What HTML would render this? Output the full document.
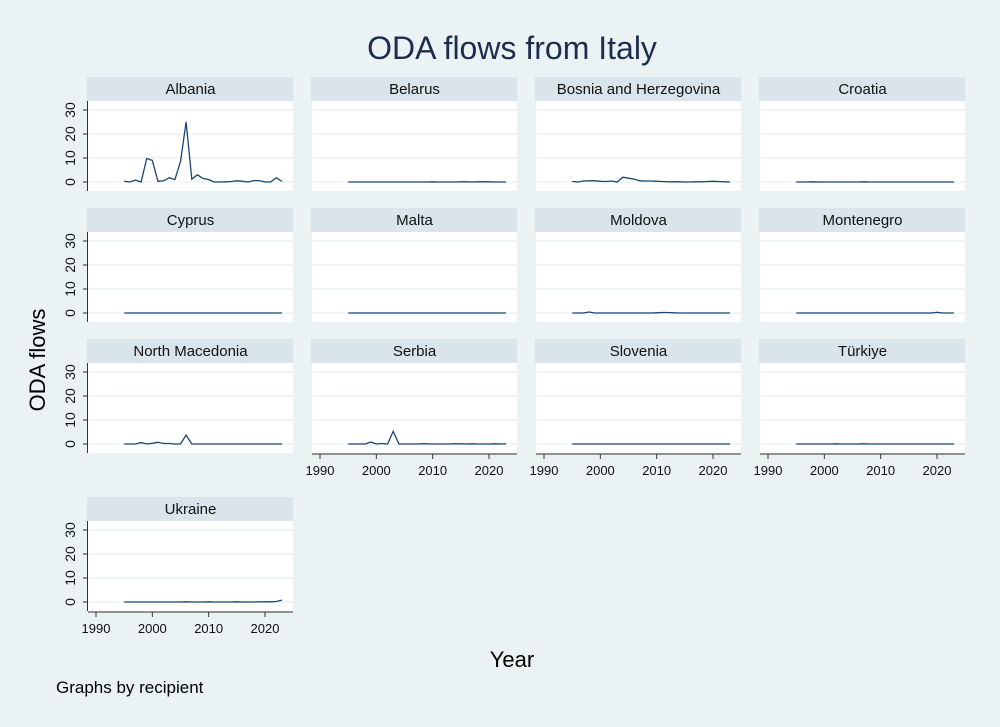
<!DOCTYPE html>
<html><head><meta charset="utf-8"><style>
body{margin:0;background:#eaf2f3;}
svg{display:block;font-family:"Liberation Sans",Arial,sans-serif;}
</style></head><body>
<svg id="chart" width="1000" height="727" viewBox="0 0 1000 727">
<rect width="1000" height="727" fill="#eaf2f3"/>
<text x="512" y="59" text-anchor="middle" font-size="32" fill="#1e2d4f">ODA flows from Italy</text>
<text x="45" y="360" text-anchor="middle" font-size="22" fill="#000" transform="rotate(-90 45 360)">ODA flows</text>
<text x="512" y="667" text-anchor="middle" font-size="22" fill="#000">Year</text>
<text x="56" y="693" font-size="17" fill="#000">Graphs by recipient</text>
</svg>
<script>
const years = [1995,1996,1997,1998,1999,2000,2001,2002,2003,2004,2005,2006,2007,2008,2009,2010,2011,2012,2013,2014,2015,2016,2017,2018,2019,2020,2021,2022,2023];
const countries = ["Albania","Belarus","Bosnia and Herzegovina","Croatia","Cyprus","Malta","Moldova","Montenegro","North Macedonia","Serbia","Slovenia","Türkiye","Ukraine"];
const zero = new Array(29).fill(0);
const albania = [0.3,0,0.8,0,9.8,9,0.3,0.5,1.8,1,8.5,25,1.2,3,1.5,1,0,0,0.1,0.2,0.5,0.3,0,0.6,0.6,0,0,1.8,0.2];
const belarus = [0,0,0,0,0,0,0,0,0,0,0,0,0,0,0,0.1,0,0,0,0,0.1,0.1,0,0.1,0.1,0.1,0,0,0];
const bosnia = [0.2,0,0.4,0.5,0.5,0.3,0.2,0.4,0,2,1.6,1.2,0.5,0.4,0.4,0.3,0.2,0.1,0.1,0.1,0,0,0.1,0.1,0.2,0.3,0.2,0.1,0];
const croatia = [0,0,0,0.1,0,0,0,0,0,0,0,0,0.1,0,0,0,0,0,0,0,0,0,0,0,0,0,0,0,0];
const cyprus = zero.slice();
const malta = zero.slice();
const moldova = [0,0,0,0.4,0,0,0,0,0,0,0,0,0,0,0,0.1,0.2,0.2,0.1,0,0,0,0,0,0,0,0,0,0];
const montenegro = [0,0,0,0,0,0,0,0,0,0,0,0,0,0,0,0,0,0,0,0,0,0,0,0,0,0.3,0,0,0];
const macedonia = [0,0,0,0.6,0,0.3,0.7,0.2,0.2,0,0,3.7,0,0,0,0,0,0,0,0,0,0,0,0,0,0,0,0,0];
const serbia = [0,0,0,0,0.8,0,0.2,0,5.3,0,0,0,0,0.1,0.1,0,0,0,0,0.1,0.1,0,0.1,0,0,0,0.1,0,0.1];
const slovenia = zero.slice();
const turkiye = [0,0,0,0,0,0,0,0.1,0,0,0,0,0.1,0,0,0,0,0,0,0,0,0,0,0,0,0,0,0,0];
const ukraine = [0,0,0,0,0,0,0,0,0,0,0,0.1,0,0,0,0.1,0,0,0,0,0.1,0,0,0,0.1,0.1,0.1,0.2,0.8];
const series = [albania,belarus,bosnia,croatia,cyprus,malta,moldova,montenegro,macedonia,serbia,slovenia,turkiye,ukraine];
const yTicks = [0,10,20,30];
const xTicks = [1990,2000,2010,2020];

const NS="http://www.w3.org/2000/svg";
const svg=document.getElementById('chart');
function mk(tag,attrs,parent){const e=document.createElementNS(NS,tag);for(const k in attrs)e.setAttribute(k,attrs[k]);(parent||svg).appendChild(e);return e;}
const colX=[88,312,536,760], rowY=[77,208,339,497], W=205;
const bottomRow=[3,2,2,2];
countries.forEach((name,i)=>{
  const c=i%4, r=Math.floor(i/4);
  const x0=colX[c], top=rowY[r];
  const g=mk('g',{});
  
  
  const strip=mk('rect',{x:x0-1,y:top,width:W+1,height:24,fill:'#d9e5ea'},g);
  
  
  const t=mk('text',{x:x0+W/2,y:top+17,'text-anchor':'middle','font-size':15,fill:'#111'},g);
  t.textContent=name;
  
  
  const pTop=top+24, pBot=top+114;
  mk('rect',{x:x0,y:pTop,width:W,height:pBot-pTop,fill:'#fff'},g);
  const ys=v=>top+105-v*2.4;
  const xs=yr=>x0+8+(yr-1990)*(169/30);
  yTicks.forEach(v=>{mk('line',{x1:x0,x2:x0+W,y1:ys(v),y2:ys(v),stroke:'#eef4f5','stroke-width':1.5},g);});
  if(c===0){
    mk('line',{x1:x0-0.5,x2:x0-0.5,y1:pTop,y2:pBot,stroke:'#333','stroke-width':1},g);
    yTicks.forEach(v=>{
      mk('line',{x1:x0-5,x2:x0,y1:ys(v),y2:ys(v),stroke:'#333'},g);
      const lx=x0-18;
      const lt=mk('text',{x:lx,y:ys(v),'text-anchor':'middle','font-size':14,fill:'#111',transform:`rotate(-90 ${lx} ${ys(v)})`,dy:'0.35em'},g);
      lt.textContent=v;
      
      
    });
  }
  if(r===bottomRow[c]){
    const ay=pBot+1;
    mk('line',{x1:x0,x2:x0+W,y1:ay,y2:ay,stroke:'#333'},g);
    xTicks.forEach(yr=>{
      mk('line',{x1:xs(yr),x2:xs(yr),y1:ay,y2:ay+5,stroke:'#333'},g);
      const xt=mk('text',{x:xs(yr),y:ay+21,'text-anchor':'middle','font-size':13,fill:'#111'},g);
      xt.textContent=yr;
      
      
    });
  }
  const d=series[i].map((v,k)=>(k?'L':'M')+xs(years[k]).toFixed(1)+','+ys(v).toFixed(1)).join(' ');
  const p=mk('path',{d:d,fill:'none',stroke:'#1a476f','stroke-width':1.3},g);
  
  
});
</script>
</body></html>
